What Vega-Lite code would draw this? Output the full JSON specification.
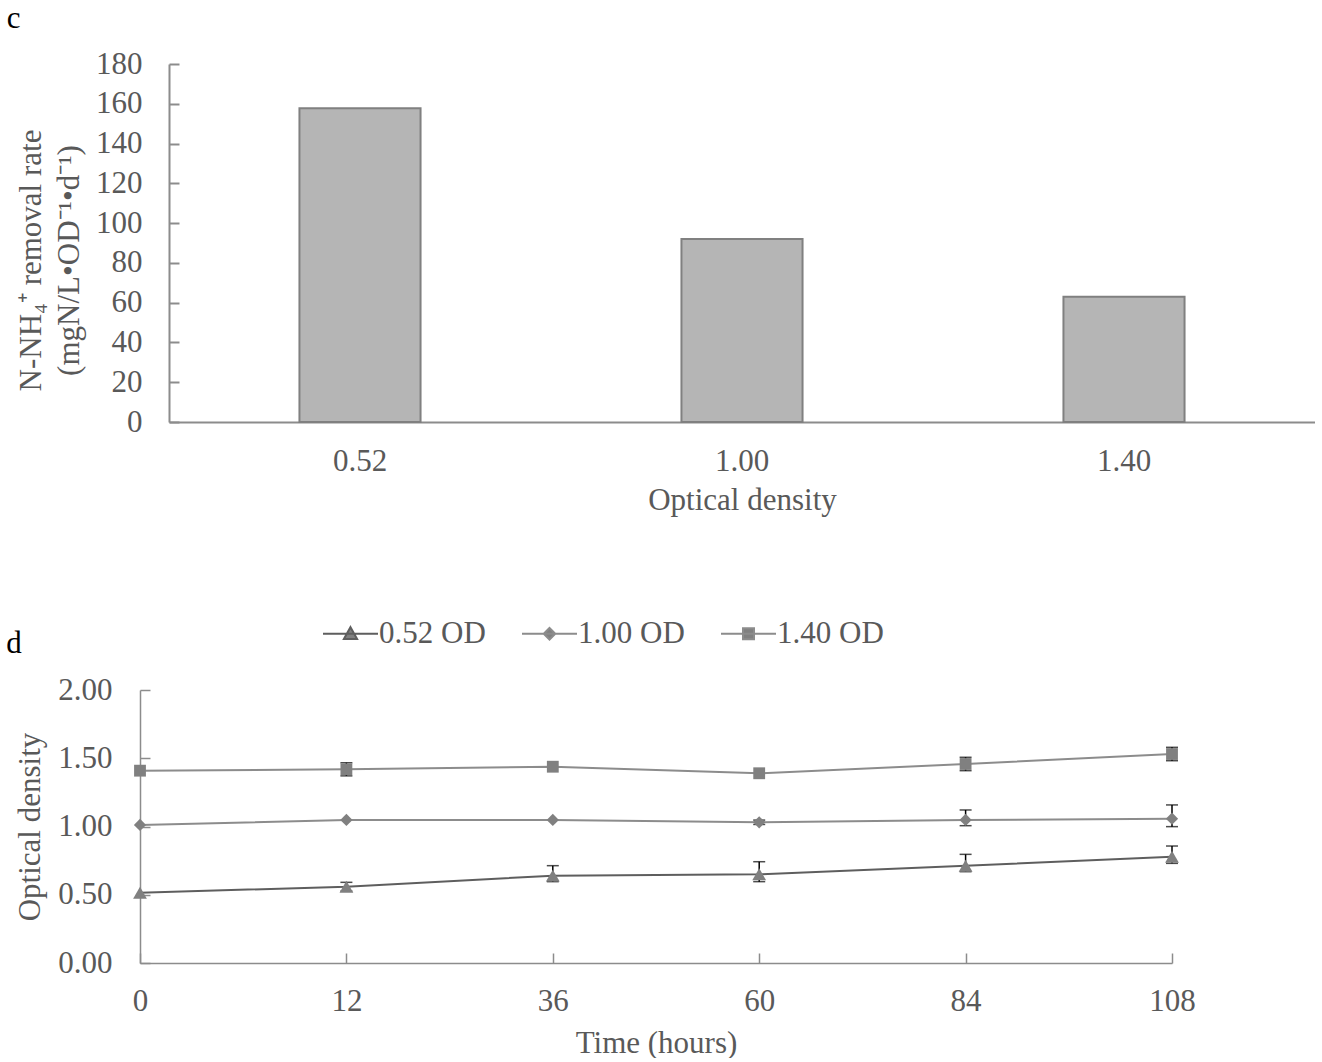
{
  "$schema": "https://vega.github.io/schema/vega-lite/v6.json",
  "background": "white",
  "padding": {"left": 6, "top": 3, "right": 0, "bottom": 0},
  "columns": 1,
  "spacing": 90,
  "resolve": {"legend": {"color": "independent"}},
  "config": {
    "font": "Liberation Serif",
    "view": {"stroke": null},
    "axis": {
      "labelFont": "Liberation Serif",
      "titleFont": "Liberation Serif",
      "labelFontSize": 31,
      "titleFontSize": 31,
      "labelColor": "#595959",
      "titleColor": "#595959",
      "titleFontWeight": "normal",
      "grid": false,
      "domainColor": "#8c8c8c",
      "tickColor": "#8c8c8c"
    },
    "title": {"font": "Liberation Serif", "fontSize": 31, "fontWeight": "normal", "color": "#000000"}
  },
  "datasets": {
    "rates": [
      {"od": "0.52", "rate": 157.7},
      {"od": "1.00", "rate": 92.0},
      {"od": "1.40", "rate": 63.0}
    ],
    "growth": [
      {"time": "0", "series": "0.52 OD", "value": 0.515, "lo": null, "hi": null},
      {"time": "12", "series": "0.52 OD", "value": 0.559, "lo": 0.527, "hi": 0.591},
      {"time": "36", "series": "0.52 OD", "value": 0.640, "lo": 0.596, "hi": 0.713},
      {"time": "60", "series": "0.52 OD", "value": 0.650, "lo": 0.596, "hi": 0.742},
      {"time": "84", "series": "0.52 OD", "value": 0.713, "lo": 0.669, "hi": 0.796},
      {"time": "108", "series": "0.52 OD", "value": 0.779, "lo": 0.730, "hi": 0.857},
      {"time": "0", "series": "1.00 OD", "value": 1.011, "lo": null, "hi": null},
      {"time": "12", "series": "1.00 OD", "value": 1.048, "lo": null, "hi": null},
      {"time": "36", "series": "1.00 OD", "value": 1.048, "lo": null, "hi": null},
      {"time": "60", "series": "1.00 OD", "value": 1.031, "lo": 1.015, "hi": 1.047},
      {"time": "84", "series": "1.00 OD", "value": 1.048, "lo": 1.006, "hi": 1.121},
      {"time": "108", "series": "1.00 OD", "value": 1.057, "lo": 0.999, "hi": 1.158},
      {"time": "0", "series": "1.40 OD", "value": 1.409, "lo": null, "hi": null},
      {"time": "12", "series": "1.40 OD", "value": 1.419, "lo": 1.371, "hi": 1.467},
      {"time": "36", "series": "1.40 OD", "value": 1.438, "lo": null, "hi": null},
      {"time": "60", "series": "1.40 OD", "value": 1.390, "lo": null, "hi": null},
      {"time": "84", "series": "1.40 OD", "value": 1.458, "lo": 1.409, "hi": 1.507},
      {"time": "108", "series": "1.40 OD", "value": 1.531, "lo": 1.482, "hi": 1.580}
    ]
  },
  "concat": [
    {
      "width": 1175,
      "height": 358,
      "title": {"text": "c", "orient": "left", "frame": "group", "anchor": "end", "angle": 0, "align": "left", "baseline": "middle", "dy": -45, "offset": -5},
      "data": {"name": "rates"},
      "mark": {"type": "bar", "fill": "#b5b5b5", "stroke": "#808080", "strokeWidth": 2},
      "encoding": {
        "x": {
          "field": "od", "type": "nominal", "sort": null,
          "scale": {"range": [29, 1175], "paddingInner": 0.683, "paddingOuter": 0.3415},
          "axis": {"title": "Optical density", "labelAngle": 0, "ticks": false, "tickSize": 0, "labelPadding": 24, "titlePadding": 9, "domainWidth": 2}
        },
        "y": {
          "field": "rate", "type": "quantitative",
          "scale": {"domain": [0, 180], "nice": false},
          "axis": {
            "offset": -29,
            "values": [0, 20, 40, 60, 80, 100, 120, 140, 160, 180],
            "tickSize": -10, "tickWidth": 2, "domainWidth": 2, "labelPadding": 37,
            "title": ["N-NH₄⁺ removal rate", "(mgN/L•OD⁻¹•d⁻¹)"],
            "titleLineHeight": 38, "titlePadding": 10, "titleY": 196
          }
        }
      }
    },
    {
      "width": 1032,
      "height": 273,
      "title": {"text": "d", "orient": "left", "frame": "group", "anchor": "end", "angle": 0, "align": "left", "baseline": "middle", "dy": -46, "offset": -7},
      "data": {"name": "growth"},
      "encoding": {
        "x": {
          "field": "time", "type": "ordinal",
          "scale": {"type": "point", "padding": 0, "domain": ["0", "12", "36", "60", "84", "108"]},
          "axis": {"title": "Time (hours)", "labelAngle": 0, "tickSize": -10, "tickWidth": 1.5, "domainWidth": 1.5, "labelPadding": 33, "titlePadding": 12}
        }
      },
      "layer": [
        {
          "transform": [{"filter": "datum.lo != null"}],
          "mark": {"type": "rule", "color": "#000000", "strokeWidth": 1.5},
          "encoding": {
            "y": {"field": "lo", "type": "quantitative"},
            "y2": {"field": "hi"}
          }
        },
        {
          "transform": [{"filter": "datum.lo != null"}],
          "mark": {"type": "tick", "color": "#000000", "thickness": 1.5, "size": 12},
          "encoding": {"y": {"field": "hi", "type": "quantitative"}}
        },
        {
          "transform": [{"filter": "datum.lo != null"}],
          "mark": {"type": "tick", "color": "#000000", "thickness": 1.5, "size": 12},
          "encoding": {"y": {"field": "lo", "type": "quantitative"}}
        },
        {
          "mark": {"type": "line", "strokeWidth": 2},
          "encoding": {
            "y": {
              "field": "value", "type": "quantitative",
              "scale": {"domain": [0, 2], "nice": false},
              "axis": {"values": [0, 0.5, 1, 1.5, 2], "format": ".2f", "title": "Optical density", "tickSize": -10, "tickWidth": 1.5, "domainWidth": 1.5, "labelPadding": 38, "titlePadding": 11}
            },
            "color": {
              "field": "series", "type": "nominal",
              "scale": {"domain": ["0.52 OD", "1.00 OD", "1.40 OD"], "range": ["#5e5e5e", "#8c8c8c", "#8c8c8c"]},
              "legend": {
                "orient": "none", "legendX": 182, "legendY": -85, "direction": "horizontal", "title": null,
                "symbolSize": 3025, "symbolStrokeWidth": 2, "labelFontSize": 31, "labelFont": "Liberation Serif",
                "labelColor": "#595959", "columnPadding": 32, "labelOffset": 0, "padding": 0,
                "encode": {
                  "symbols": {
                    "update": {
                      "shape": {"signal": "datum.value === '0.52 OD' ? 'M-1,0H1M0,-0.24L0.24,0.19L-0.24,0.19Z' : datum.value === '1.00 OD' ? 'M-1,0H1M0,-0.21L0.21,0L0,0.21L-0.21,0Z' : 'M-1,0H1M-0.2,-0.2H0.2V0.2H-0.2Z'"},
                      "fill": {"value": "#808080"},
                      "stroke": {"signal": "datum.value === '0.52 OD' ? '#5e5e5e' : '#8c8c8c'"},
                      "strokeWidth": {"value": 2}
                    }
                  }
                }
              }
            }
          }
        },
        {
          "transform": [{"filter": "datum.series === '0.52 OD'"}],
          "mark": {"type": "point", "shape": "triangle-up", "filled": true, "color": "#808080", "opacity": 1, "size": 190},
          "encoding": {"y": {"field": "value", "type": "quantitative"}}
        },
        {
          "transform": [{"filter": "datum.series === '1.00 OD'"}],
          "mark": {"type": "point", "shape": "diamond", "filled": true, "color": "#808080", "opacity": 1, "size": 150},
          "encoding": {"y": {"field": "value", "type": "quantitative"}}
        },
        {
          "transform": [{"filter": "datum.series === '1.40 OD'"}],
          "mark": {"type": "point", "shape": "square", "filled": true, "color": "#808080", "opacity": 1, "size": 140},
          "encoding": {"y": {"field": "value", "type": "quantitative"}}
        }
      ]
    }
  ]
}
